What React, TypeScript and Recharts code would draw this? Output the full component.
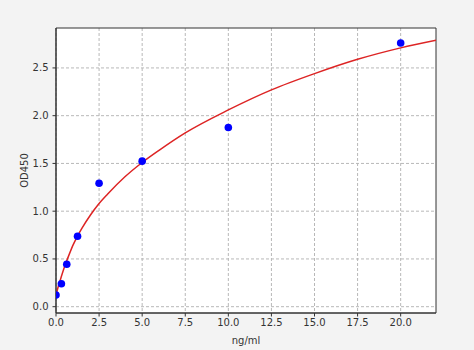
import React from 'react';
import { ComposedChart, Line, Scatter, XAxis, YAxis, CartesianGrid, ReferenceArea } from 'recharts';

const concentrations = [0, 0.3125, 0.625, 1.25, 2.5, 5, 10, 20];
const odValues = [0.123, 0.241, 0.444, 0.738, 1.293, 1.524, 1.876, 2.761];

const curveX = [0, 0.1, 0.25, 0.5, 0.75, 1, 1.25, 1.5, 2, 2.5, 3, 4, 5, 6, 7.5, 10, 12.5, 15, 17.5, 20, 22.05];
const curveY = [0.12, 0.19, 0.28, 0.42, 0.54, 0.65, 0.74, 0.82, 0.96, 1.08, 1.18, 1.36, 1.51, 1.64, 1.82, 2.06, 2.27, 2.44, 2.59, 2.71, 2.79];

const xTicks = [0, 2.5, 5, 7.5, 10, 12.5, 15, 17.5, 20];
const yTicks = [0, 0.5, 1, 1.5, 2, 2.5];

const X_DOMAIN: [number, number] = [0, 22.05];
const Y_DOMAIN: [number, number] = [-0.066, 2.918];

const points = concentrations.map((x, i) => ({ x, y: odValues[i] }));
const curve = curveX.map((x, i) => ({ x, y: curveY[i] }));

const tickStyle = { fontSize: 10, fill: '#333', fontFamily: 'DejaVu Sans' };

export default function App() {
  return (
    <div style={{ position: 'absolute', left: 0, top: 0, width: 474, height: 350, background: '#f3f3f3' }}>
      <ComposedChart width={474} height={350} margin={{ top: 28, right: 38, bottom: 7, left: 6 }}>
        <CartesianGrid
          fill="#ffffff"
          stroke="#b8b8b8"
          strokeDasharray="3 2"
          horizontalValues={yTicks}
          verticalValues={xTicks}
        />
        <XAxis
          type="number"
          dataKey="x"
          domain={X_DOMAIN}
          ticks={xTicks}
          allowDataOverflow
          height={30}
          tickSize={3.5}
          tickMargin={2}
          tickFormatter={(v: number) => v.toFixed(1)}
          tick={tickStyle}
          stroke="#333"
          label={{ value: 'ng/ml', position: 'insideBottom', offset: -1, style: { fontSize: 10, fill: '#333', fontFamily: 'DejaVu Sans' } }}
        />
        <YAxis
          type="number"
          dataKey="y"
          domain={Y_DOMAIN}
          ticks={yTicks}
          allowDataOverflow
          width={50}
          tickSize={3.5}
          tickMargin={4}
          tickFormatter={(v: number) => v.toFixed(1)}
          tick={tickStyle}
          stroke="#333"
          label={{ value: 'OD450', angle: -90, position: 'insideLeft', offset: 18, style: { fontSize: 10, fill: '#333', fontFamily: 'DejaVu Sans', textAnchor: 'middle' } }}
        />
        <ReferenceArea x1={X_DOMAIN[0]} x2={X_DOMAIN[1]} y1={Y_DOMAIN[0]} y2={Y_DOMAIN[1]} fill="none" stroke="#333" strokeWidth={1} ifOverflow="visible" />
        <Line data={curve} dataKey="y" type="monotone" stroke="#dd2424" strokeWidth={1.5} dot={false} isAnimationActive={false} />
        <Scatter data={points} dataKey="y" fill="#0000ff" isAnimationActive={false} shape={(p: any) => <circle cx={p.cx} cy={p.cy} r={3.8} fill="#0000ff" />} />
      </ComposedChart>
    </div>
  );
}
